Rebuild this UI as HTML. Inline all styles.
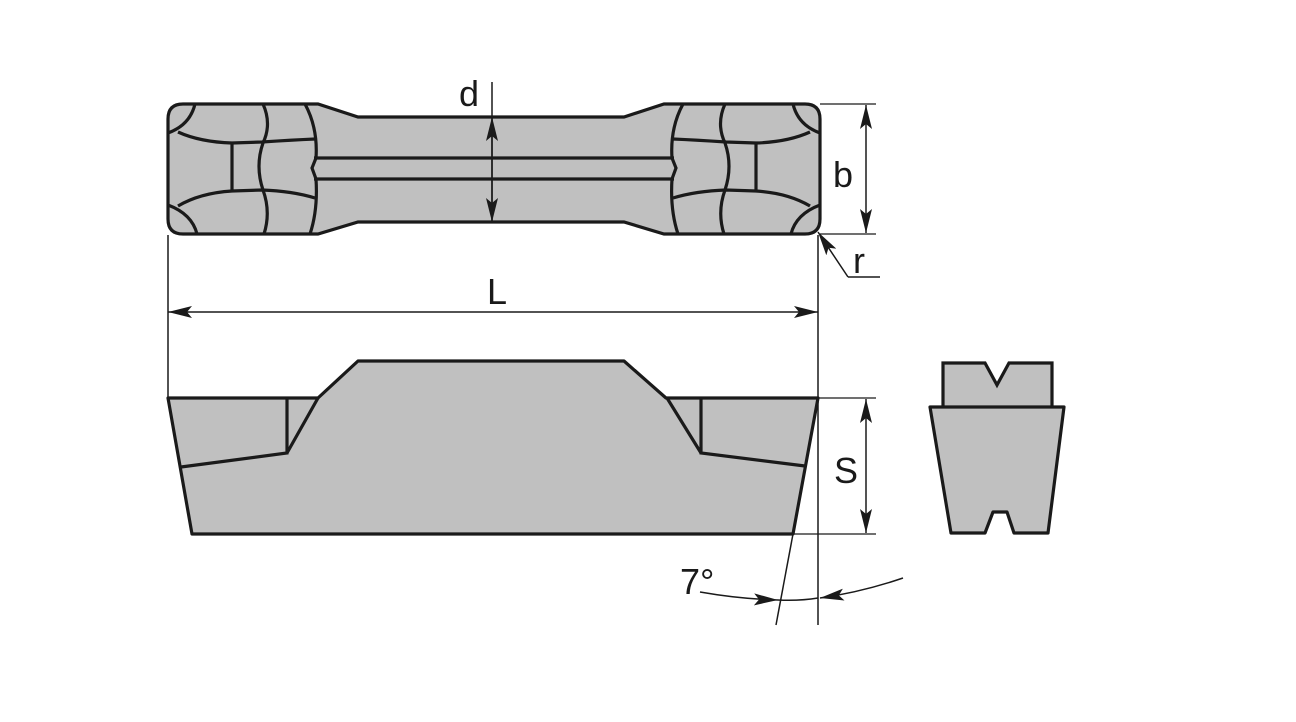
<!DOCTYPE html>
<html><head><style>body{margin:0;background:#fff}svg{display:block}</style></head><body>
<svg width="1296" height="722" viewBox="0 0 1296 722" xmlns="http://www.w3.org/2000/svg">
<defs>
<marker id="a" viewBox="0 0 24 12" refX="24" refY="6" markerWidth="24" markerHeight="12" markerUnits="userSpaceOnUse" orient="auto"><path d="M0 0 L24 6 L0 12 L5 6 Z" fill="#1a1a1a"/></marker>
<g id="endL" fill="none" stroke="#1a1a1a" stroke-width="3.2">
<path d="M195 104 Q190 125 168 133"/>
<path d="M178 132 Q200 142 232 143 L262 142 Q292 140 315 139"/>
<path d="M178 206 Q200 193 232 191 L262 190 Q292 191 315 198"/>
<path d="M232 143 L232 191"/>
<path d="M263 104 Q272 124 263 143 Q255 166 263 190 Q271 212 264 234"/>
<path d="M305 104 Q318 128 316 158 L312 168 L316 179 Q318 210 310 234"/>
<path d="M168 205 Q192 214 197 234"/>
</g>
</defs>
<g font-family="Liberation Sans, sans-serif" font-size="36" fill="#1a1a1a">
<path d="M183 104 L318 104 L358 117 L624 117 L664 104 L805 104 Q820 104 820 119 L820 219 Q820 234 805 234 L664 234 L624 222 L358 222 L318 234 L183 234 Q168 234 168 219 L168 119 Q168 104 183 104 Z" fill="#c0c0c0" stroke="#1a1a1a" stroke-width="3.2"/>
<path d="M314 158 L674 158 M314 179 L674 179" stroke="#1a1a1a" stroke-width="3.2"/>
<use href="#endL"/>
<use href="#endL" transform="translate(988 0) scale(-1 1)"/>
<line x1="492" y1="82" x2="492" y2="222" stroke="#1a1a1a" stroke-width="1.5"/>
<line x1="492" y1="170" x2="492" y2="117" stroke="#1a1a1a" stroke-width="1.5" marker-end="url(#a)"/>
<line x1="492" y1="170" x2="492" y2="222" stroke="#1a1a1a" stroke-width="1.5" marker-end="url(#a)"/>
<text x="459" y="106">d</text>
<path d="M820 104 L876 104 M820 234 L876 234" stroke="#1a1a1a" stroke-width="1.2"/>
<line x1="866" y1="170" x2="866" y2="105" stroke="#1a1a1a" stroke-width="1.5" marker-end="url(#a)"/>
<line x1="866" y1="170" x2="866" y2="233" stroke="#1a1a1a" stroke-width="1.5" marker-end="url(#a)"/>
<text x="833" y="187">b</text>
<line x1="848" y1="277" x2="818" y2="232" stroke="#1a1a1a" stroke-width="1.5" marker-end="url(#a)"/>
<line x1="848" y1="277" x2="880" y2="277" stroke="#1a1a1a" stroke-width="1.5"/>
<text x="853" y="273">r</text>
<path d="M168 235 L168 398 M818 235 L818 625" stroke="#1a1a1a" stroke-width="1.5"/>
<line x1="490" y1="312" x2="168" y2="312" stroke="#1a1a1a" stroke-width="1.5" marker-end="url(#a)"/>
<line x1="490" y1="312" x2="818" y2="312" stroke="#1a1a1a" stroke-width="1.5" marker-end="url(#a)"/>
<text x="487" y="304">L</text>
<path d="M168 398 L318 398 L358 361 L624 361 L666 398 L818 398 L793 534 L192 534 Z" fill="#c0c0c0" stroke="#1a1a1a" stroke-width="3.2" stroke-linejoin="round"/>
<path d="M287 398 L287 453 L181 467 M287 453 L318 398 M701 398 L701 453 L805 466 M701 453 L667 398" fill="none" stroke="#1a1a1a" stroke-width="3.2"/>
<path d="M818 398 L876 398 M793 534 L876 534" stroke="#1a1a1a" stroke-width="1.2"/>
<line x1="866" y1="466" x2="866" y2="399" stroke="#1a1a1a" stroke-width="1.5" marker-end="url(#a)"/>
<line x1="866" y1="466" x2="866" y2="533" stroke="#1a1a1a" stroke-width="1.5" marker-end="url(#a)"/>
<text x="834" y="483">S</text>
<line x1="793" y1="534" x2="776" y2="625" stroke="#1a1a1a" stroke-width="1.5"/>
<path d="M700 592 Q740 599 778 600" fill="none" stroke="#1a1a1a" stroke-width="1.5" marker-end="url(#a)"/>
<path d="M903 578 Q862 592 820 598" fill="none" stroke="#1a1a1a" stroke-width="1.5" marker-end="url(#a)"/>
<path d="M778 600 Q800 601 818 598" fill="none" stroke="#1a1a1a" stroke-width="1.5"/>
<text x="680" y="594">7°</text>
<path d="M943 407 L943 363 L985 363 L997 385 L1009 363 L1052 363 L1052 407" fill="#c0c0c0" stroke="#1a1a1a" stroke-width="3.2"/>
<path d="M930 407 L1064 407 L1048 533 L1014 533 L1007 512 L993 512 L985 533 L951 533 Z" fill="#c0c0c0" stroke="#1a1a1a" stroke-width="3.2" stroke-linejoin="round"/>
</g>
</svg>
</body></html>
